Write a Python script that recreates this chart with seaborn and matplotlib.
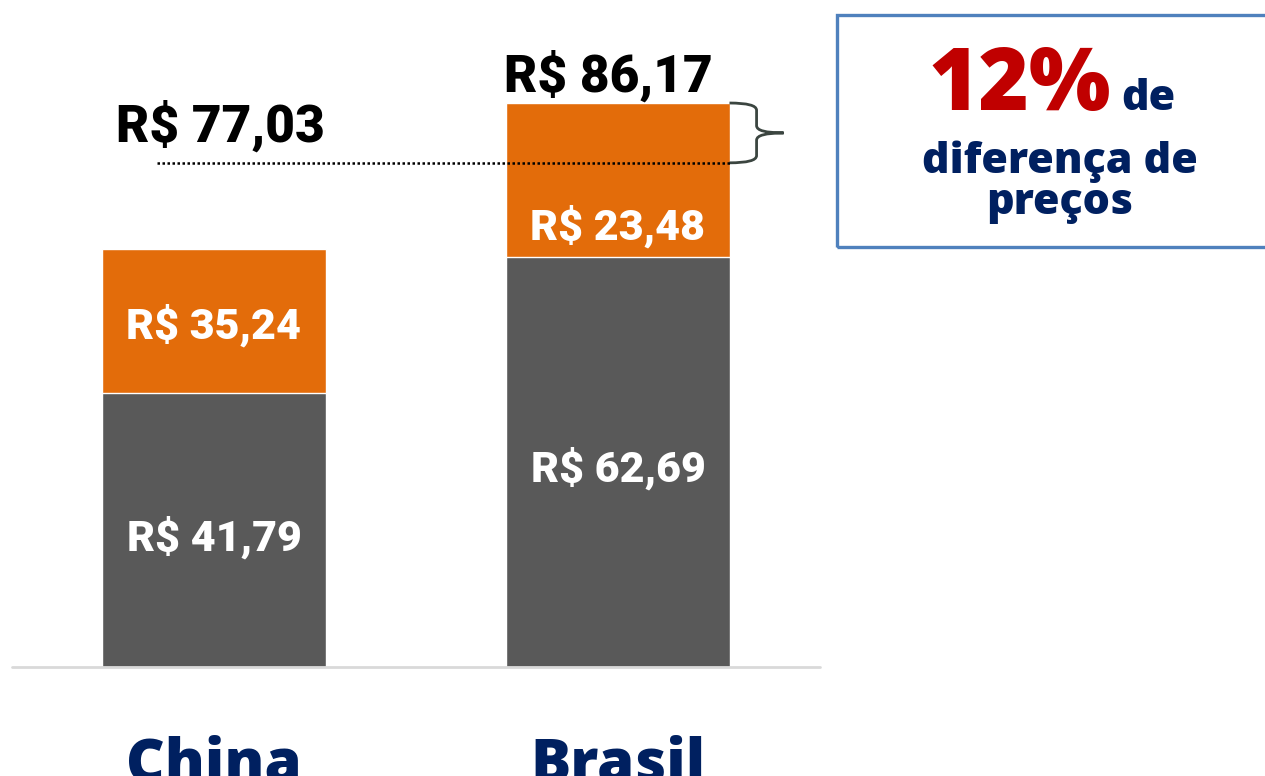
import numpy as np
import pandas as pd
import matplotlib
matplotlib.use("Agg")
import matplotlib.pyplot as plt
from matplotlib.path import Path
from matplotlib.patches import PathPatch, Rectangle
from matplotlib.transforms import blended_transform_factory
import seaborn as sns

# data
paises = ["China", "Brasil"]
custo_base = [41.79, 62.69]          # grey segment
custo_extra = [22.0, 23.48]           # orange segment, as drawn
rotulo_base = ["R$ 41,79", "R$ 62,69"]
rotulo_extra = ["R$ 35,24", "R$ 23,48"]
total_china = 77.03
total_brasil = 86.17
rotulo_totais = ["R$ 77,03", "R$ 86,17"]

df = pd.DataFrame({"pais": paises, "base": custo_base, "extra": custo_extra})
df["total"] = df["base"] + df["extra"]

W, H = 1265, 776
sns.set_theme(style="white")
plt.rcParams["font.family"] = ["Roboto", "DejaVu Sans"]

fig = plt.figure(figsize=(W / 100, H / 100), dpi=100)
ax = fig.add_axes([12 / W, 109 / H, 808 / W, 667 / H])


def px(x, y):
    return x / W, 1 - y / H


cinza = "#595959"
laranja = "#E36C0A"
azul = "#002060"

sns.barplot(data=df, x="pais", y="total", color=laranja, saturation=1, width=0.552, ax=ax)
sns.barplot(data=df, x="pais", y="base", color=cinza, saturation=1, width=0.552, ax=ax)

ax.set_xlim(-0.5, 1.5)
ax.set_ylim(0, 667 / 6.545)
ax.axhline(0, color="#D9D9D9", lw=2, clip_on=False)
sns.despine(ax=ax, left=True, bottom=True)
ax.set_xticks([])
ax.set_yticks([])
ax.set_xlabel("")
ax.set_ylabel("")

# labels inside segments
for i in range(2):
    ax.text(i, custo_base[i] / 2 - 1.1, rotulo_base[i], ha="center", va="center",
            color="white", fontsize=31, fontweight="black")
ax.text(0, custo_base[0] + custo_extra[0] / 2 - 0.6, rotulo_extra[0], ha="center", va="center",
        color="white", fontsize=31, fontweight="black")
ax.text(1, custo_base[1] + 4.5, rotulo_extra[1], ha="center", va="center",
        color="white", fontsize=31, fontweight="black")

# totals
ax.text(0.015, total_china + 5.5, rotulo_totais[0], ha="center", va="center",
        color="black", fontsize=37, fontweight="black")
ax.text(0.975, total_brasil + 4.0, rotulo_totais[1], ha="center", va="center",
        color="black", fontsize=37, fontweight="black")

# dotted line at China total
ax.plot([-0.142, 1.276], [total_china, total_china], color="black", lw=1.8,
        ls=(0, (1, 1)), clip_on=False)

# brace between the two totals
x0, x1, x2 = 1.276, 1.343, 1.41
ym = (total_china + total_brasil) / 2
d = 1.1
verts = [
    (x0, total_brasil), (x1, total_brasil), (x1, total_brasil - d),
    (x1, ym + d), (x1, ym), (x2, ym),
    (x1, ym), (x1, ym - d),
    (x1, total_china + d), (x1, total_china), (x0, total_china),
]
codes = [Path.MOVETO, Path.CURVE3, Path.CURVE3,
         Path.LINETO, Path.CURVE3, Path.CURVE3,
         Path.CURVE3, Path.CURVE3,
         Path.LINETO, Path.CURVE3, Path.CURVE3]
ax.add_patch(PathPatch(Path(verts, codes), fill=False, ec="#3B4540", lw=2.0, clip_on=False))

# category labels, cut at the bottom edge like the original
trans = blended_transform_factory(ax.transData, fig.transFigure)
cat_font = ["Open Sans", "DejaVu Sans"]
for i, p in enumerate(paises):
    ax.text(i, px(0, 781)[1], p, transform=trans, ha="center", va="baseline",
            color=azul, fontsize=43, fontweight="heavy", family=cat_font, clip_on=False)

# box on the right
fig.patches.append(Rectangle(px(837, 247), (W + 20 - 837) / W, (247 - 15) / H,
                             transform=fig.transFigure, fill=False,
                             ec="#4F81BD", lw=2.4, figure=fig))
x, y = px(1111, 110)
fig.text(x, y, "12%", ha="right", va="baseline", color="#C00000",
         fontsize=62, fontweight="heavy", family=cat_font)
x, y = px(1121, 110)
fig.text(x, y, "de", ha="left", va="baseline", color=azul,
         fontsize=31, fontweight="heavy", family=cat_font)
x, y = px(1060, 173)
fig.text(x, y, "diferença de", ha="center", va="baseline", color=azul,
         fontsize=31, fontweight="heavy", family=cat_font)
x, y = px(1060, 214)
fig.text(x, y, "preços", ha="center", va="baseline", color=azul,
         fontsize=31, fontweight="heavy", family=cat_font)

fig.savefig("out.png", dpi=100)
